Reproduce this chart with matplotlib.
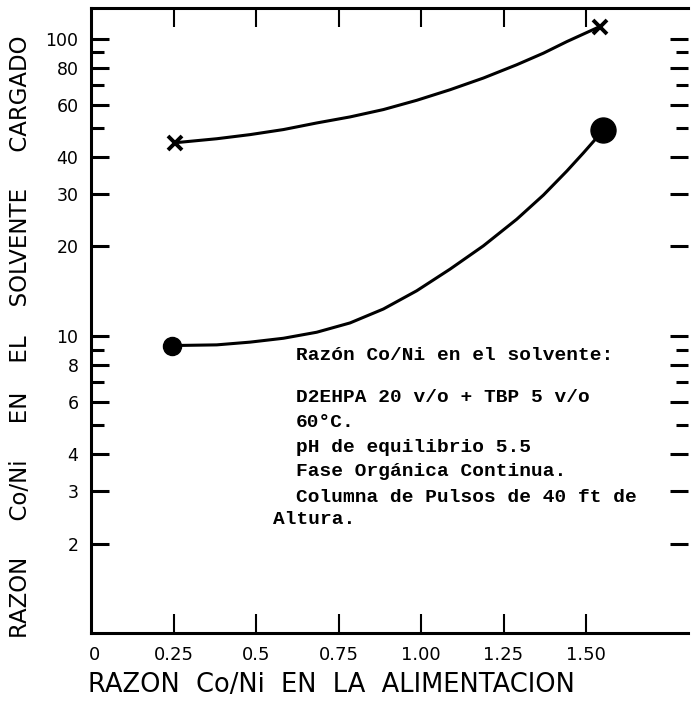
import numpy as np
import matplotlib
matplotlib.use('Agg')
import matplotlib.pyplot as plt
from matplotlib.ticker import NullFormatter

# Datos
x_tick_vals = [0.25, 0.5, 0.75, 1.0, 1.25, 1.5]
x_tick_labels = ['0.25', '0.5', '0.75', '1.00', '1.25', '1.50']
y_major = [2, 3, 4, 6, 8, 10, 20, 30, 40, 60, 80, 100]
y_minor = [5, 7, 9, 50, 70, 90]

# curva superior (x)
x_sup = [0.255, 0.381, 0.482, 0.583, 0.684, 0.785, 0.886, 0.987, 1.088,
         1.189, 1.290, 1.371, 1.442, 1.542]
y_sup = [44.7, 46.1, 47.6, 49.5, 52.1, 54.6, 57.8, 62.1, 67.4,
         73.8, 81.8, 89.5, 97.9, 110.0]

# curva inferior (circulos)
x_inf = [0.245, 0.381, 0.482, 0.583, 0.684, 0.785, 0.886, 0.987, 1.088,
         1.189, 1.290, 1.371, 1.442, 1.492, 1.532, 1.552]
y_inf = [9.28, 9.33, 9.53, 9.82, 10.29, 11.06, 12.32, 14.19, 16.78,
         20.1, 24.7, 29.8, 35.9, 41.3, 46.4, 49.5]

notas = [
    'Razón Co/Ni en el solvente:',
    'D2EHPA 20 v/o + TBP 5 v/o',
    '60°C.',
    'pH de equilibrio 5.5',
    'Fase Orgánica Continua.',
    'Columna de Pulsos de 40 ft de',
]

W, H = 692, 702
fig = plt.figure(figsize=(W / 100, H / 100), dpi=100)
ax = fig.add_axes([91 / W, 1 - 633 / H, (688 - 91) / W, (633 - 8) / H])

ax.set_yscale('log')
ax.set_xlim(0, 1.809)
ax.set_ylim(1.0, 127)

# curvas
ax.plot(x_sup, y_sup, color='black', lw=2.2, solid_capstyle='round',
        solid_joinstyle='round')
ax.plot([x_sup[0], x_sup[-1]], [y_sup[0], y_sup[-1]], linestyle='none',
        marker='x', ms=10, mew=2.8, color='black')
ax.plot(x_inf, y_inf, color='black', lw=2.2, solid_capstyle='round',
        solid_joinstyle='round')
ax.plot(x_inf[:1], y_inf[:1], linestyle='none', marker='o', ms=13, color='black')
ax.plot(x_inf[-1:], y_inf[-1:], linestyle='none', marker='o', ms=18, color='black')

# ejes
ax.spines['right'].set_visible(False)
for s in ['left', 'top', 'bottom']:
    ax.spines[s].set_linewidth(2.2)

ax.set_xticks(x_tick_vals)
ax.set_xticklabels(x_tick_labels)
ax.set_yticks(y_major)
ax.set_yticklabels([str(v) for v in y_major])
ax.set_yticks(y_minor, minor=True)
ax.yaxis.set_minor_formatter(NullFormatter())
ax.xaxis.set_minor_formatter(NullFormatter())
ax.tick_params(axis='x', which='major', direction='in', top=True, bottom=True,
               length=14, width=1.5, pad=9, labelsize=13)
ax.tick_params(axis='y', which='major', direction='in', left=True, right=True,
               length=13, width=2.2, pad=9, labelsize=12.5)
ax.tick_params(axis='y', which='minor', direction='in', left=True, right=True,
               length=9, width=2.2)

fig.text(95 / W, 1 - 655 / H, '0', ha='center', va='center', fontsize=13)

ax.set_xlabel('RAZON  Co/Ni  EN  LA  ALIMENTACION', fontsize=18.5)
ax.xaxis.set_label_coords(-0.005, -0.062)
ax.xaxis.label.set_ha('left')
ax.set_ylabel('RAZON     Co/Ni     EN    EL    SOLVENTE     CARGADO',
              fontsize=16.5)
ax.yaxis.set_label_coords(-0.099, 0.474)

# texto de condiciones
mono = dict(family='Liberation Mono', fontsize=14, weight='bold', color='black')
fig.text(296 / W, 1 - 355 / H, notas[0], va='center', **mono)
y_lin = [397, 422, 447, 472, 497]
for t, yy in zip(notas[1:], y_lin):
    fig.text(296 / W, 1 - yy / H, t, va='center', **mono)
fig.text(273 / W, 1 - 520 / H, 'Altura.', va='center', **mono)

fig.savefig('out.png', dpi=100)
